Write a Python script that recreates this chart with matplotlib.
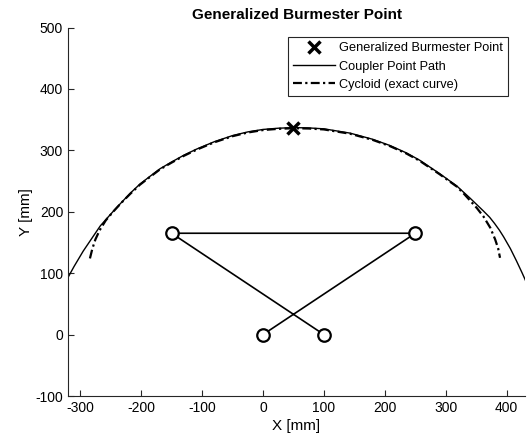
import matplotlib
matplotlib.use("Agg")
import matplotlib.pyplot as plt

plt.rcParams['font.family'] = ['Liberation Sans', 'DejaVu Sans']
plt.rcParams['axes.unicode_minus'] = False

# four-bar linkage joints, drawn as one polyline: A0 -> A -> B -> B0
link_x = [0, 250, -150, 100]
link_y = [0, 165, 165, 0]

# generalized Burmester point
bp_x = [50]
bp_y = [337]

# coupler point path
path_x = [-330, -320, -310, -295, -280, -267, -250, -240, -218, -202, -185, -169,
          -150, -130, -109, -80, -50, -25, 0, 25, 50, 75, 100, 143, 180, 208,
          235, 257, 290, 318, 340, 362, 372, 380, 388, 395, 406, 416, 425, 430, 440]
path_y = [72, 93, 111, 136, 158, 177, 196, 207, 230, 245, 258, 270,
          281, 292, 302, 314, 324, 330, 334, 336, 337, 336.5, 335, 328, 318, 308,
          296, 284, 262, 242, 222, 201, 191, 181, 170, 159, 140, 120, 101, 90, 65]

# cycloid (exact curve)
cyc_x = [-284, -280, -275, -268, -258, -245, -232, -218, -202, -185, -169, -150,
         -130, -109, -80, -50, -25, 0, 25, 50, 75, 100, 143, 180, 208, 235, 257,
         290, 318, 330, 341, 351, 362, 373, 381, 386, 389]
cyc_y = [124, 140, 155, 170, 186, 201, 215, 229, 244, 257, 269, 280,
         291, 301, 313, 323, 329, 333, 335, 336, 335.5, 334, 327, 317, 307, 295, 283,
         261, 241, 229, 217, 206, 192, 174, 155, 140, 125]

fig = plt.figure(figsize=(5.27, 4.43), dpi=100)
ax = fig.add_axes([68 / 527, 47 / 443, 457 / 527, 368.5 / 443])

h_bp, = ax.plot(bp_x, bp_y, 'x', color='k', markersize=9, markeredgewidth=2.5,
                label='Generalized Burmester Point', zorder=5)
h_path, = ax.plot(path_x, path_y, '-', color='k', linewidth=1.0,
                  label='Coupler Point Path')
h_cyc, = ax.plot(cyc_x, cyc_y, color='k', linewidth=1.6, linestyle=(0, (4, 1.5, 1, 1.5)),
                 label='Cycloid (exact curve)')
ax.plot(link_x, link_y, '-o', color='k', linewidth=1.2, markersize=9,
        markerfacecolor='white', markeredgewidth=1.6, zorder=4)

ax.set_xlim(-320, 430)
ax.set_ylim(-100, 500)
ax.set_xticks(range(-300, 401, 100))
ax.set_yticks(range(-100, 501, 100))
ax.spines['top'].set_visible(False)
ax.spines['right'].set_visible(False)
for s in ('left', 'bottom'):
    ax.spines[s].set_color('#262626')
    ax.spines[s].set_linewidth(0.8)
ax.tick_params(direction='in', length=4.5, width=0.8, colors='#262626',
               labelsize=10, labelcolor='k')

ax.set_xlabel('X [mm]', fontsize=11, labelpad=3)
ax.set_ylabel('Y [mm]', fontsize=11, labelpad=2)
ax.set_title('Generalized Burmester Point', fontsize=11, fontweight='bold', pad=6)

leg = ax.legend(handles=[h_bp, h_path, h_cyc], loc='upper right',
                bbox_to_anchor=(0.963, 0.974), fontsize=9.2,
                handlelength=3.3, handletextpad=0.3, labelspacing=0.5,
                borderpad=0.4, borderaxespad=0, fancybox=False,
                framealpha=1, edgecolor='#262626')
leg.get_frame().set_linewidth(0.8)

fig.savefig('out.png', dpi=100)
